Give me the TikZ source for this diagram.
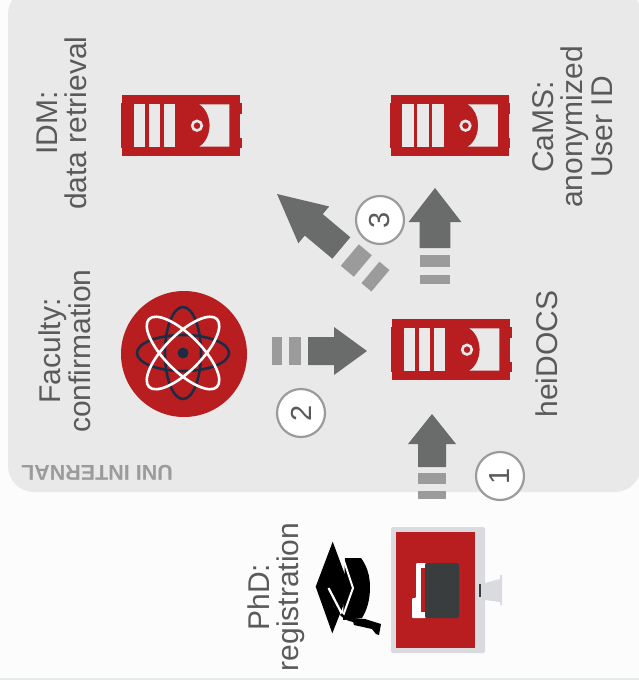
\documentclass[tikz,border=0pt]{standalone}
\usepackage{fontspec}
\setmainfont{Liberation Sans}
\definecolor{panelgray}{HTML}{E9E9E9}
\definecolor{pagegray}{HTML}{FCFCFC}
\definecolor{unired}{HTML}{B81E20}
\definecolor{arrowdark}{HTML}{6A6C6B}
\definecolor{arrowlight}{HTML}{9B9B9B}
\definecolor{labelgray}{HTML}{5A5A5A}
\definecolor{atomnavy}{HTML}{1D2B45}
\definecolor{framegray}{HTML}{D9DBDF}
\definecolor{screendark}{HTML}{3A3D3E}
\tikzset{
    label/.style = {rotate = 90, align = center, text = labelgray, inner sep = 0pt,
        font = \fontsize{30}{29.5}\selectfont},
    stepnum/.style = {draw = arrowlight, line width = 2.2pt, fill = white, circle,
        minimum size = 48pt, inner sep = 0pt, rotate = 90, text = labelgray,
        font = \fontsize{29}{29}\selectfont},
    serverpic/.pic = {
        \fill [unired] (0,0) rectangle (118,61);
        \fill [unired] (-1,8) rectangle (2,53);
        \fill [unired] (117,8) rectangle (119.5,19);
        \fill [unired] (117,43) rectangle (119.5,53);
        \fill [panelgray] (11.7,9.3) rectangle (23.3,51.7);
        \fill [panelgray] (26.7,9.3) rectangle (38.3,51.7);
        \fill [panelgray] (41.7,9.3) rectangle (53.3,51.7);
        \fill [panelgray] (77.3,9.3) -- (107.3,9.3) -- (107.3,51.7) -- (77.3,51.7)
            .. controls (91,43) and (91,18) .. (77.3,9.3);
        \draw [panelgray, line width = 2.6pt] (75,30.7) circle [radius = 4.8pt];
    }
}
\newcommand{\fatarrow}[7]{
    \begin{scope}[#1]
        \fill [arrowdark] (0,0) -- (-#2,24) -- (-#2,14) -- (-#3,14) -- (-#3,-14)
            -- (-#2,-14) -- (-#2,-24) -- cycle;
        \fill [arrowlight] (-#4,-14) rectangle (-#5,14);
        \fill [arrowlight] (-#6,-14) rectangle (-#7,14);
    \end{scope}
}
\begin{document}
\begin{tikzpicture}[x = 1pt, y = -1pt]
            \useasboundingbox (0,0) rectangle (639,680);
            \fill [pagegray] (0,0) rectangle (639,680);
            \fill [framegray!60] (0,677.5) rectangle (639,680);
            %Uni internal
            \fill [panelgray, rounded corners = 26pt] (8,-12) rectangle (641,492);
            \node [rotate = 180, text = arrowlight, inner sep = 0pt,
                font = \fontsize{21.5}{22}\selectfont\bfseries]
            (internal)at(97,473){UNI INTERNAL};
            %Servers
            \pic (idm) at (122,95) {serverpic};
            \pic (cams) at (390.5,95) {serverpic};
            \pic (docs) at (392,319) {serverpic};
            %Faculty
            \fill [unired] (184,354) circle [radius = 63pt];
            \draw [atomnavy, line width = 2.6pt] (183,353) ellipse [x radius = 46pt, y radius = 18pt];
            \draw [atomnavy, line width = 2.6pt] (183,353) ellipse [x radius = 18pt, y radius = 46pt];
            \draw [white, line width = 2.6pt] (183,353) ellipse [x radius = 48pt, y radius = 18pt, rotate = 45];
            \draw [white, line width = 2.6pt] (183,353) ellipse [x radius = 48pt, y radius = 18pt, rotate = -45];
            \fill [atomnavy] (183,353) circle [radius = 5.5pt];
            %Monitor
            \fill [framegray] (485,583) -- (500,579) -- (500,575) -- (502,575) -- (502,605)
                -- (500,605) -- (500,602) -- (485,600) -- cycle;
            \fill [framegray, rounded corners = 1.5pt] (391,527) rectangle (485,653);
            \fill [unired] (396,532) rectangle (475,648);
            \fill [screendark] (478.5,584) rectangle (480.5,597);
            \fill [white, rounded corners = 1pt] (416,563) -- (426,563) -- (426,618) -- (412,618)
                -- (412,598) -- (416,598) -- cycle;
            \fill [unired] (421,568) rectangle (426,612);
            \fill [screendark, rounded corners = 1.5pt] (425,563) rectangle (459,618);
            %Cap
            \fill [black] (345,558) -- (361,558) .. controls (367,566) and (370,576) .. (370,587)
                .. controls (370,600) and (367,610) .. (362,618) -- (343,620) -- cycle;
            \draw [white, line width = 2pt] (343,558) -- (353,588) -- (343,616);
            \fill [black, line join = round] (332.7,541.7) -- (315.7,586.7) -- (332.3,633.3) -- (350,588.3) -- cycle;
            \draw [white, line width = 2.2pt] (328.5,588) -- (342,614);
            \draw [black, line width = 2.5pt] (341,614) .. controls (346,620) and (352,621) .. (358,621);
            \fill [black] (352,618) -- (365,619) -- (381,624) -- (379,635) -- (376,634) -- (372,629) -- (354,625) -- cycle;
            %Arrows
            \fatarrow{shift = {(432,414)}, rotate = 90}{30}{53}{59}{70}{77}{85}
            \fatarrow{shift = {(367,351)}, rotate = 0}{33}{59}{66}{78}{85}{95}
            \fatarrow{shift = {(435,188)}, rotate = 90, yscale = 1.1}{34}{60}{67}{79}{87}{96}
            \fatarrow{shift = {(277,194)}, rotate = 140}{48}{84}{95}{112}{122}{135}
            %Steps
            \node [stepnum] (stepa)at(500,476){1};
            \node [stepnum] (stepb)at(301,413){2};
            \node [stepnum] (stepc)at(380,220){3};
            %Labels
            \node [label] (idmtext)at(62,123){IDM:\\data retrieval};
            \node [label] (factext)at(65,351){Faculty:\\confirmation};
            \node [label] (camstext)at(572.5,127){CaMS:\\anonymized\\User ID};
            \node [label] (docstext)at(547,354){heiDOCS};
            \node [label] (phdtext)at(276,597){PhD:\\registration};
        \end{tikzpicture}
\end{document}
